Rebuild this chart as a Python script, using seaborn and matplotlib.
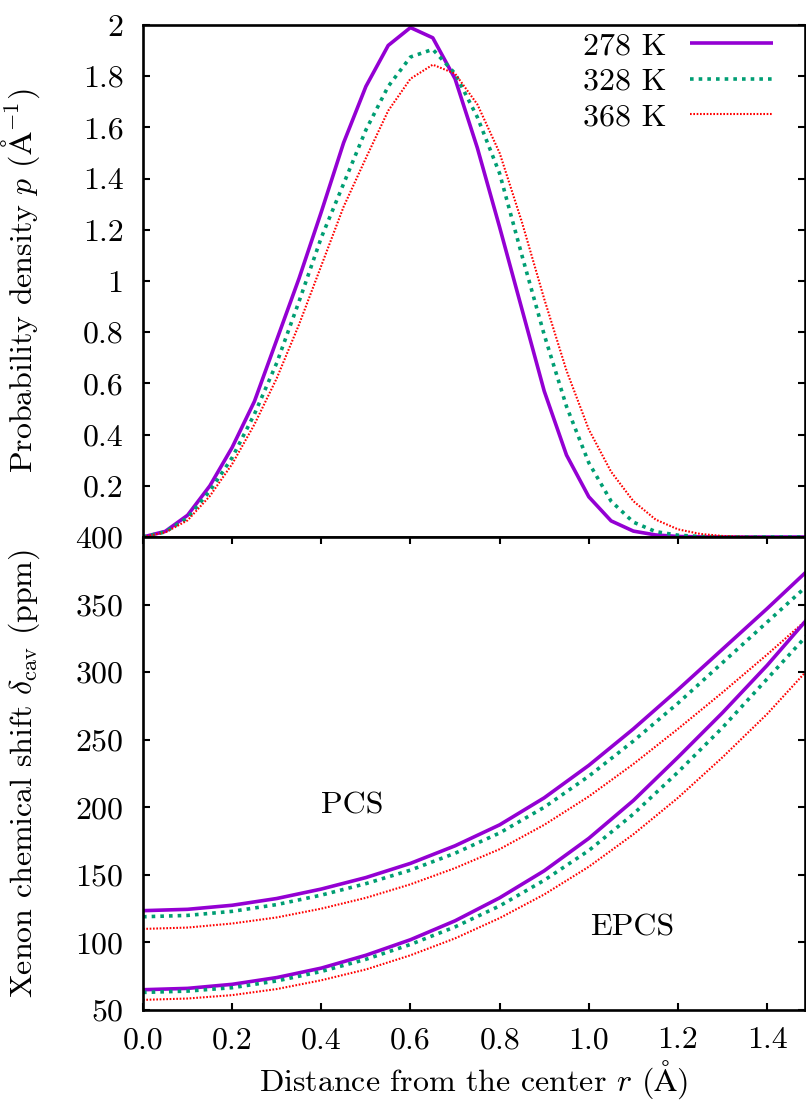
import numpy as np
import pandas as pd
import matplotlib
matplotlib.use("Agg")
import matplotlib.pyplot as plt
from matplotlib.ticker import FixedLocator, FuncFormatter
import seaborn as sns

# ---- data -------------------------------------------------------------
temperatures = ["278 K", "328 K", "368 K"]

# radial probability density p(r), sampled every 0.05 Å
r_density = [0.00, 0.05, 0.10, 0.15, 0.20, 0.25, 0.30, 0.35, 0.40, 0.45,
             0.50, 0.55, 0.60, 0.65, 0.70, 0.75, 0.80, 0.85, 0.90, 0.95,
             1.00, 1.05, 1.10, 1.15, 1.20, 1.25, 1.30, 1.35, 1.40, 1.45, 1.50]
p_278 = [0, 0.022, 0.085, 0.20, 0.35, 0.53, 0.77, 1.01, 1.27, 1.54,
         1.76, 1.92, 1.99, 1.95, 1.79, 1.52, 1.21, 0.89, 0.57, 0.32,
         0.157, 0.063, 0.023, 0.008, 0.002, 0.0005, 0, 0, 0, 0, 0]
p_328 = [0, 0.020, 0.075, 0.18, 0.31, 0.48, 0.68, 0.92, 1.17, 1.38,
         1.59, 1.76, 1.875, 1.905, 1.81, 1.64, 1.42, 1.10, 0.79, 0.51,
         0.29, 0.14, 0.058, 0.021, 0.007, 0.002, 0.0005, 0, 0, 0, 0]
p_368 = [0, 0.018, 0.065, 0.16, 0.285, 0.44, 0.62, 0.83, 1.06, 1.29,
         1.48, 1.665, 1.79, 1.845, 1.81, 1.69, 1.50, 1.23, 0.93, 0.65,
         0.42, 0.255, 0.14, 0.068, 0.030, 0.012, 0.004, 0.001, 0, 0, 0]

# xenon chemical shift (ppm) versus distance, every 0.1 Å
r_shift = [0.0, 0.1, 0.2, 0.3, 0.4, 0.5, 0.6, 0.7, 0.8, 0.9,
           1.0, 1.1, 1.2, 1.3, 1.4, 1.5]
pcs_278 = [123.5, 124.5, 127.5, 132.5, 139.5, 148, 158.5, 171.5, 187, 207,
           231, 258, 287, 317, 347, 378]
pcs_328 = [119, 120, 123, 128, 135, 143.5, 153.5, 166, 181, 200,
           223, 249, 277, 307, 337, 367]
pcs_368 = [110, 111, 114, 118.5, 125, 133, 143, 155, 169, 187,
           208, 232, 258, 285, 313, 342]
epcs_278 = [65, 66, 69, 74, 81, 90.5, 102, 116, 133, 153,
            177, 205, 237, 270, 305, 343]
epcs_328 = [63, 64, 66.5, 71.5, 78.5, 87.5, 98.5, 111.5, 127, 146,
            168, 195, 226, 259, 295, 331]
epcs_368 = [57.5, 58.5, 61, 65.5, 72, 80, 90.5, 103, 118, 135.5,
            156, 180, 207, 237, 269, 305]

# ---- styling ----------------------------------------------------------
FS = 23
sns.set_theme(style="ticks")
plt.rcParams.update({
    "font.family": ["cmr10", "STIXGeneral", "DejaVu Serif"],
    "mathtext.fontset": "cm",
    "axes.formatter.use_mathtext": True,
    "font.size": FS,
    "axes.labelsize": FS,
    "xtick.labelsize": FS,
    "ytick.labelsize": FS,
    "axes.linewidth": 1.9,
    "axes.edgecolor": "black",
    "xtick.color": "black",
    "ytick.color": "black",
    "text.color": "black",
    "axes.labelcolor": "black",
})

styles = {
    "278 K": dict(color="#9400D3", lw=2.6, ls="-"),
    "328 K": dict(color="#009E73", lw=2.6, ls=(0, (1.0, 1.4))),
    "368 K": dict(color="#FF0000", lw=1.5, ls=(0, (0.8, 0.8))),
}

density = pd.DataFrame({"r": r_density, "278 K": p_278,
                        "328 K": p_328, "368 K": p_368})
pcs = pd.DataFrame({"r": r_shift, "278 K": pcs_278,
                    "328 K": pcs_328, "368 K": pcs_368})
epcs = pd.DataFrame({"r": r_shift, "278 K": epcs_278,
                     "328 K": epcs_328, "368 K": epcs_368})

W, H = 806, 1104
fig = plt.figure(figsize=(W / 100, H / 100), dpi=100)
left, right = 143 / W, 805 / W
ax_top = fig.add_axes([left, 1 - 537 / H, right - left, (537 - 25) / H])
ax_bot = fig.add_axes([left, 1 - 1010 / H, right - left, (1010 - 537) / H])

xmax = 1.485

# ---- top: probability density -----------------------------------------
for t in temperatures:
    st = styles[t]
    sns.lineplot(data=density, x="r", y=t, ax=ax_top, color=st["color"],
                 linewidth=st["lw"], linestyle=st["ls"], label=t,
                 solid_capstyle="butt", dash_capstyle="butt")

ax_top.set_xlim(0, xmax)
ax_top.set_ylim(0, 2)
ax_top.yaxis.set_major_locator(FixedLocator(np.arange(0.2, 2.01, 0.2)))
ax_top.yaxis.set_major_formatter(FuncFormatter(lambda v, _: f"{v:g}"))
ax_top.set_xticks([])
ax_top.set_xlabel("")
ax_top.set_ylabel(r"Probability density $p$ ($\mathrm{\AA}^{-1}$)")
ax_top.tick_params(axis="y", direction="in", length=5, width=1.5,
                   left=True, right=True, pad=14)

leg = ax_top.legend(loc="upper right", bbox_to_anchor=(0.952, 0.986),
                    frameon=False, markerfirst=False,
                    handlelength=2.6, handletextpad=0.75,
                    labelspacing=0.22, borderaxespad=0.0, borderpad=0.0,
                    fontsize=FS)

# ---- bottom: chemical shifts ------------------------------------------
for frame in (pcs, epcs):
    for t in temperatures:
        st = styles[t]
        sns.lineplot(data=frame, x="r", y=t, ax=ax_bot, color=st["color"],
                     linewidth=st["lw"], linestyle=st["ls"],
                     solid_capstyle="butt", dash_capstyle="butt")

ax_bot.set_xlim(0, xmax)
ax_bot.set_ylim(50, 400)
ax_bot.yaxis.set_major_locator(FixedLocator(np.arange(50, 401, 50)))
ax_bot.xaxis.set_major_locator(FixedLocator(np.arange(0, 1.41, 0.2)))
ax_bot.xaxis.set_major_formatter(FuncFormatter(lambda v, _: f"{v:.1f}"))
ax_bot.set_xlabel(r"Distance from the center $r$ ($\mathrm{\AA}$)",
                  labelpad=3)
ax_bot.set_ylabel(r"Xenon chemical shift $\delta_{\mathrm{cav}}$ (ppm)")
ax_bot.tick_params(axis="both", direction="in", length=5, width=1.5,
                   left=True, right=True, top=True, bottom=True)
ax_bot.tick_params(axis="y", pad=14)
ax_bot.tick_params(axis="x", pad=12)
if ax_bot.get_legend() is not None:
    ax_bot.get_legend().remove()

ax_bot.text(0.47, 201, "PCS", ha="center", va="center", fontsize=FS)
ax_bot.text(1.097, 111, "EPCS", ha="center", va="center", fontsize=FS)

for ax in (ax_top, ax_bot):
    for s in ax.spines.values():
        s.set_visible(True)
        s.set_linewidth(1.9)

ax_top.yaxis.set_label_coords(-0.153, 0.5)
ax_bot.yaxis.set_label_coords(-0.153, 0.5)

fig.savefig("out.png", dpi=100)
